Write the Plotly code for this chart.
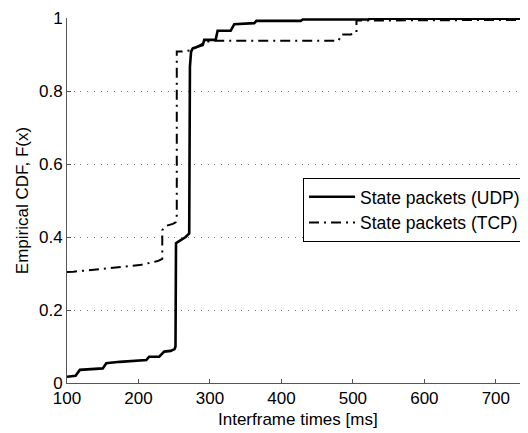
import plotly.graph_objects as go

# UDP state packets: empirical CDF
udp_x = [100, 112, 118, 150, 155, 174, 211, 215, 229, 236, 245, 250.5, 251.8, 251.8, 252.5,
         258, 266, 271, 271.3, 272, 273.6, 276, 290, 292, 308, 310.7, 329, 334, 362, 365,
         427, 430, 521, 525, 750]
udp_y = [0.017, 0.02, 0.036, 0.04, 0.054, 0.058, 0.063, 0.072, 0.072, 0.086, 0.088, 0.093,
         0.10, 0.26, 0.383, 0.39, 0.40, 0.41, 0.80, 0.867, 0.908, 0.917, 0.926, 0.94, 0.94,
         0.965, 0.965, 0.983, 0.986, 0.992, 0.992, 0.996, 0.996, 0.998, 0.998]

# TCP state packets
tcp_x = [100, 109, 141, 171.5, 201.7, 227, 231, 233.3, 233.3, 238, 248, 252, 253.6, 253.6,
         263, 274, 290, 300, 310, 480, 484, 497, 505, 505, 750]
tcp_y = [0.304, 0.305, 0.311, 0.317, 0.323, 0.334, 0.337, 0.34, 0.419, 0.43, 0.436, 0.44,
         0.46, 0.908, 0.908, 0.912, 0.93, 0.937, 0.938, 0.938, 0.955, 0.955, 0.96, 0.993, 0.995]

x_ticks = [100, 200, 300, 400, 500, 600, 700]
y_ticks = [0, 0.2, 0.4, 0.6, 0.8, 1]
y_tick_labels = ["0", "0.2", "0.4", "0.6", "0.8", "1"]
x_title = "Interframe times [ms]"
y_title = "Empirical CDF, F(x)"

fig = go.Figure()
fig.add_trace(go.Scatter(x=udp_x, y=udp_y, mode="lines", name="State packets (UDP)",
                         line=dict(color="black", width=2.6)))
fig.add_trace(go.Scatter(x=tcp_x, y=tcp_y, mode="lines", name="State packets (TCP)",
                         line=dict(color="black", width=2, dash="10px,5px,2px,5px")))

fam = "Liberation Sans, Arial, sans-serif"
font = dict(family=fam, size=17, color="black")
fig.update_layout(
    # page body adds an 8px margin, so the figure is 8px smaller
    width=520, height=425,
    margin=dict(l=59, r=0, t=10, b=50),
    paper_bgcolor="white", plot_bgcolor="white",
    font=font,
    showlegend=True,
    legend=dict(x=0.512, y=0.562, xanchor="left", yanchor="top",
                bgcolor="white", bordercolor="black", borderwidth=1,
                font=dict(family=fam, size=17.5, color="black"),
                tracegroupgap=0, itemwidth=46),
    xaxis=dict(range=[100, 745], tickvals=x_ticks, ticks="inside", ticklen=4,
               tickcolor="#555", showline=True, linecolor="#555", linewidth=1,
               showgrid=False, zeroline=False, automargin=False,
               tickfont=font),
    yaxis=dict(range=[0, 1], tickvals=y_ticks, ticktext=y_tick_labels, ticks="inside",
               ticklen=4, tickcolor="#555", showline=True, linecolor="#555", linewidth=1,
               showgrid=True, gridcolor="#777", griddash="1px,5.7px", gridwidth=1,
               zeroline=False, automargin=False, tickfont=font,
               title=dict(text=y_title, standoff=6, font=font)),
    annotations=[dict(text=x_title, xref="paper", yref="paper", x=0.5, y=-0.101,
                      xanchor="center", yanchor="middle", showarrow=False, font=font)],
)

fig.write_html("out.html")
